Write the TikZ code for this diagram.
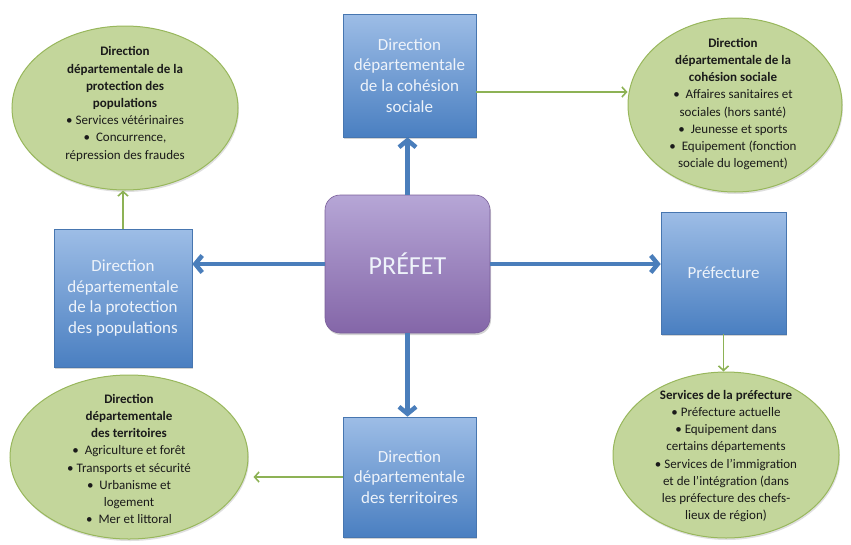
\documentclass[tikz,border=0pt]{standalone}
\usepackage{fontspec}
\setmainfont{Carlito}
\usetikzlibrary{shapes.geometric,arrows.meta,shadows,calc}
\definecolor{boxtop}{HTML}{9DBDE6}
\definecolor{boxbot}{HTML}{4A7FC1}
\definecolor{boxline}{HTML}{4776B0}
\definecolor{boxtext}{HTML}{EEF3FA}
\definecolor{purtop}{HTML}{B6A6D6}
\definecolor{purbot}{HTML}{8466A8}
\definecolor{purline}{HTML}{7A5F9A}
\definecolor{ellfill}{HTML}{C3D69B}
\definecolor{ellline}{HTML}{98B75C}
\definecolor{elltext}{HTML}{1A1A1A}
\definecolor{arrblue}{HTML}{4A7EBB}
\definecolor{arrgreen}{HTML}{8DB255}
\begin{document}
\begin{tikzpicture}[x=1pt,y=-1pt,
  bluebox/.style={rectangle, draw=boxline, line width=0.6pt, top color=boxtop, bottom color=boxbot,
    text=boxtext, align=center, font=\fontsize{17}{20.7}\selectfont, inner sep=0pt,
    drop shadow={opacity=0.35, shadow xshift=1pt, shadow yshift=-2pt}},
  purbox/.style={rectangle, rounded corners=15pt, draw=purline, line width=0.6pt, top color=purtop, bottom color=purbot,
    text=boxtext, font=\fontsize{26}{30}\selectfont, inner sep=0pt,
    drop shadow={opacity=0.35, shadow xshift=1pt, shadow yshift=-2pt}},
  ellshape/.style={ellipse, draw=ellline, line width=1pt, fill=ellfill, inner sep=0pt,
    drop shadow={opacity=0.25, shadow xshift=1pt, shadow yshift=-2pt}},
  elltxt/.style={align=center, text=elltext, font=\fontsize{13}{17.2}\selectfont, inner sep=0pt},
  barrow/.style={draw=arrblue, line width=4.5pt, -{Straight Barb[length=7pt,width=17pt]}},
  garrow/.style={draw=arrgreen, line width=1.6pt, -{Straight Barb[length=4.5pt,width=10pt]}}
]
\useasboundingbox (0,0) rectangle (851,544);

% ellipses
\node[ellshape, minimum width=226pt, minimum height=164pt] (etl) at (125,108) {};
\node[elltxt] (ttl) at (125,104) {\textbf{Direction}\\\textbf{départementale de la}\\\textbf{protection des}\\\textbf{populations}\\• Services vétérinaires\\•\ \ Concurrence,\\répression des fraudes};

\node[ellshape, minimum width=214pt, minimum height=174pt] (etr) at (735,105) {};
\node[elltxt] (ttr) at (733,104) {\textbf{Direction}\\\textbf{départementale de la}\\\textbf{cohésion sociale}\\•\ \ Affaires sanitaires et\\sociales (hors santé)\\•\ \ Jeunesse et sports\\•\ \ Equipement (fonction\\sociale du logement)};

\node[ellshape, minimum width=238pt, minimum height=164pt] (ebl) at (129,457) {};
\node[elltxt] (tbl) at (129,459) {\textbf{Direction}\\\textbf{départementale}\\\textbf{des territoires}\\•\ \ Agriculture et forêt\\• Transports et sécurité\\•\ \ Urbanisme et\\logement\\•\ \ Mer et littoral};

\node[ellshape, minimum width=226pt, minimum height=166pt] (ebr) at (726,455) {};
\node[elltxt] (tbr) at (726,456) {\textbf{Services de la préfecture}\\• Préfecture actuelle\\• Equipement dans\\certains départements\\• Services de l’immigration\\et de l’intégration (dans\\les préfecture des chefs-\\lieux de région)};

% boxes
\node[bluebox, minimum width=133pt, minimum height=123pt] (ddcs) at (409.5,75.5) {Direction\\départementale\\de la cohésion\\sociale};
\node[bluebox, minimum width=138pt, minimum height=138pt] (ddpp) at (123,298) {Direction\\départementale\\de la protection\\des populations};
\node[bluebox, minimum width=125pt, minimum height=122pt] (pref) at (723.5,273) {Préfecture};
\node[bluebox, minimum width=133pt, minimum height=120pt] (ddt) at (409.5,477) {Direction\\départementale\\des territoires};
\node[purbox, minimum width=165pt, minimum height=138pt] (prefet) at (407.5,264) {PRÉFET};

% blue arrows
\draw[barrow] (prefet.north) -- (prefet.north |- ddcs.south);
\draw[barrow] (prefet.west) -- (prefet.west -| ddpp.east);
\draw[barrow] (prefet.east) -- (prefet.east -| pref.west);
\draw[barrow] (prefet.south) -- (prefet.south |- ddt.north);

% green arrows
\coordinate (g1) at ($(ddcs.east)+(0,16.5)$);
\draw[garrow] (g1) -- (g1 -| etr.west);
\draw[garrow] (ddpp.north) -- (ddpp.north |- etl.south);
\draw[garrow] (pref.south) -- (pref.south |- ebr.north);
\draw[garrow, shorten >=5pt] (ddt.west) -- (ddt.west -| ebl.east);
\end{tikzpicture}
\end{document}
